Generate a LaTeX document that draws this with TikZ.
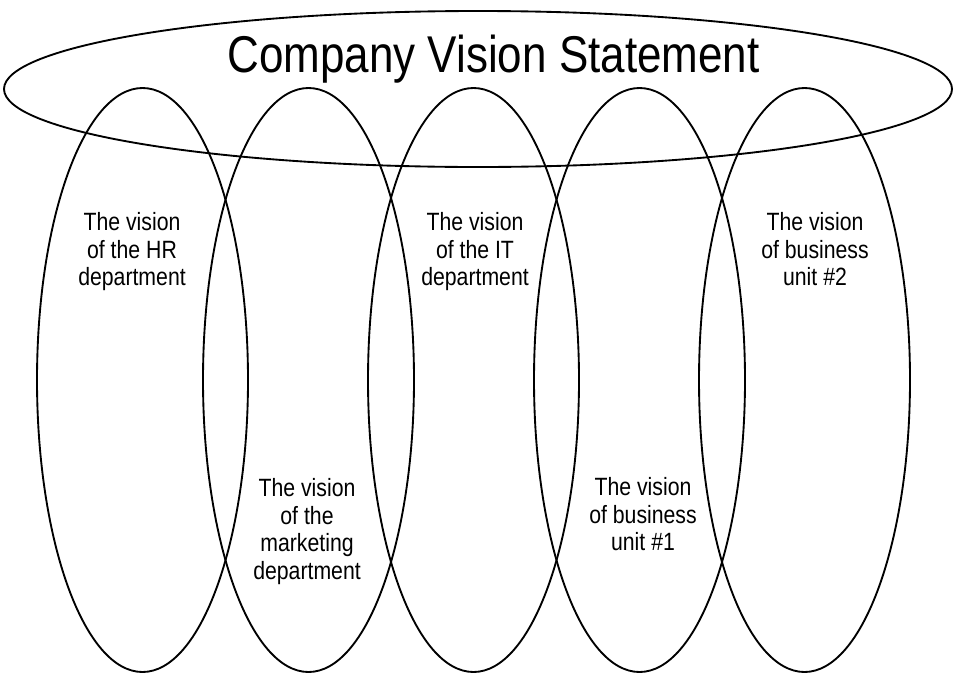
\documentclass[tikz,border=0pt]{standalone}
\usepackage{fontspec}
\newfontfamily\narrowsans[FakeStretch=0.85]{Liberation Sans}
\begin{document}
\begin{tikzpicture}[x=0.75pt,y=-0.75pt,
  ring/.style={draw=black,line width=1.4pt},
  lbl/.style={anchor=north,inner sep=0pt,align=center,
    font={\narrowsans\fontsize{18.75pt}{20.6pt}\selectfont}},
  ttl/.style={anchor=base,inner sep=0pt,
    font={\narrowsans\fontsize{38.8pt}{44pt}\selectfont}}]
\useasboundingbox (0,0) rectangle (955,675);
\fill[white] (0,0) rectangle (955,675);
% company ellipse
\coordinate (cv) at (478,89);
\draw[ring] (cv) ellipse [x radius=474, y radius=78];
% department ellipses
\foreach \n/\cx in {1/142.5,2/308.5,3/473.5,4/639.5,5/804.5}{
  \coordinate (e\n) at (\cx,380);
  \draw[ring] (e\n) ellipse [x radius=105.5, y radius=292];
}
\node[ttl] (title) at (493.5,72) {Company Vision Statement};
\node[lbl] (hr) at (132,212.5) {The vision\\of the HR\\department};
\node[lbl] (it) at (475,212.5) {The vision\\of the IT\\department};
\node[lbl] (bu2) at (815,212.5) {The vision\\of business\\unit \#2};
\node[lbl] (mkt) at (307,478.5) {The vision\\of the\\marketing\\department};
\node[lbl] (bu1) at (643,477.5) {The vision\\of business\\unit \#1};
\end{tikzpicture}
\end{document}
